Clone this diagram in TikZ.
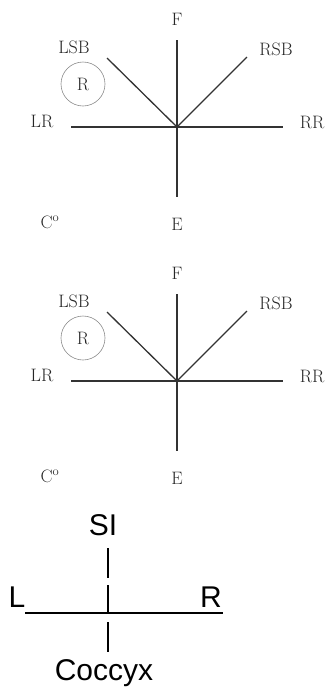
\documentclass[tikz,border=0pt]{standalone}
\usepackage{fontspec}
\newfontfamily\arialfont{Liberation Sans}
\begin{document}
\begin{tikzpicture}[x=1pt,y=-1pt,
  lbl/.style={inner sep=0pt, text=black!85, font=\fontsize{18}{21}\selectfont},
  axis/.style={draw=black!80, line width=1.3pt},
  ring/.style={draw=black!45, line width=0.6pt, circle, minimum size=44pt, inner sep=0pt, text=black!85, font=\fontsize{18}{21}\selectfont},
  sans/.style={inner sep=0pt, font=\arialfont\fontsize{30}{34}\selectfont},
  bar/.style={draw=black, line width=2.6pt},
  tick/.style={draw=black, line width=1.6pt}]
\useasboundingbox (0,0) rectangle (329,689);
\foreach \dy/\p in {0/a,254/b}{
  \coordinate (\p c) at (177,127+\dy);
  \coordinate (\p top) at (177,40+\dy);
  \coordinate (\p bot) at (177,197+\dy);
  \coordinate (\p lft) at (71,127+\dy);
  \coordinate (\p rgt) at (283,127+\dy);
  \coordinate (\p lsb) at (107,58+\dy);
  \coordinate (\p rsb) at (247,57+\dy);
  \draw[axis] (\p top) -- (\p bot);
  \draw[axis] (\p lft) -- (\p rgt);
  \draw[axis] (\p lsb) -- (\p c) -- (\p rsb);
  \node[lbl] (\p F) at (177,19+\dy) {F};
  \node[lbl] (\p LSB) at (74,47+\dy) {LSB};
  \node[lbl] (\p RSB) at (276,49+\dy) {RSB};
  \node[lbl] (\p LR) at (42,121+\dy) {LR};
  \node[lbl] (\p RR) at (312,122+\dy) {RR};
  \node[ring] (\p R) at (83,84+\dy) {R};
  \node[lbl] (\p C) at (50,222+\dy) {C\textsuperscript{o}};
  \node[lbl] (\p E) at (177,224+\dy) {E};
}
\node[sans] (SI) at (103,525) {SI};
\node[sans] (L) at (17,597) {L};
\node[sans] (R) at (211,597) {R};
\node[sans] (Coc) at (104,673) {Coccyx};
\coordinate (t1a) at (108,548); \coordinate (t1b) at (108,578);
\coordinate (t2a) at (108,585); \coordinate (t2b) at (108,613);
\coordinate (t3a) at (108,622); \coordinate (t3b) at (108,652);
\coordinate (hl) at (25,613); \coordinate (hr) at (223,613);
\draw[tick] (t1a) -- (t1b);
\draw[tick] (t2a) -- (t2b);
\draw[tick] (t3a) -- (t3b);
\draw[bar] (hl) -- (hr);
\end{tikzpicture}
\end{document}
